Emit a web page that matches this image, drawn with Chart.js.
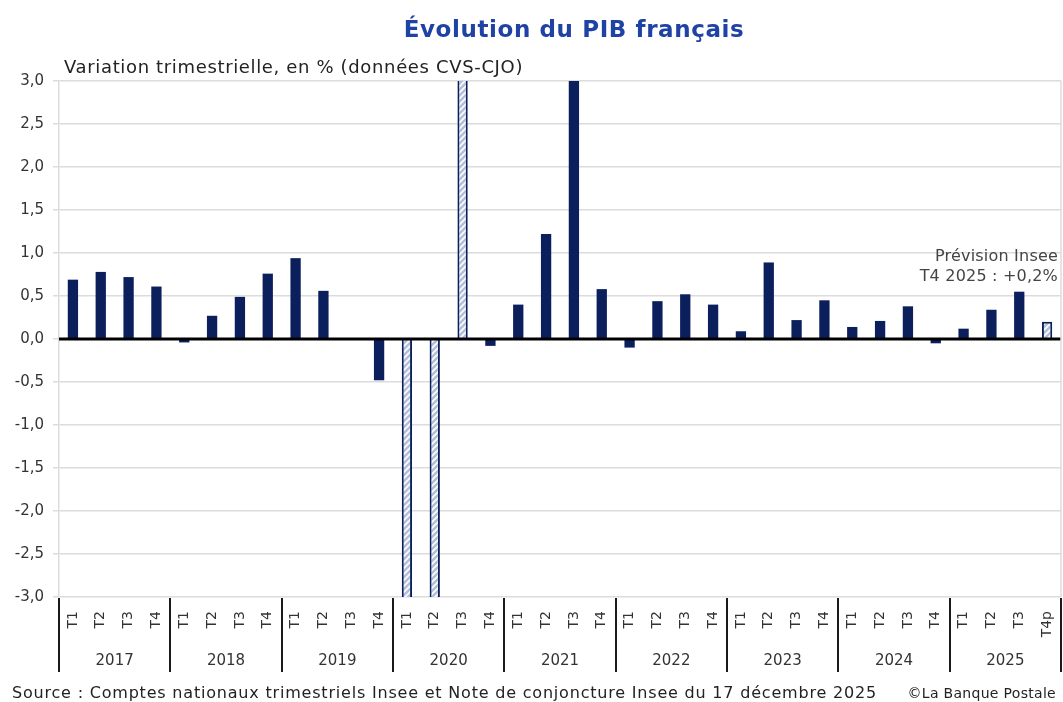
<!DOCTYPE html>
<html lang="fr">
<head>
<meta charset="utf-8">
<script src="https://cdn.jsdelivr.net/npm/chart.js@4.4.1/dist/chart.umd.min.js"></script>
<style>
html, body { margin: 0; padding: 0; background: #fff; }
</style>
</head>
<body>
<canvas id="pib" width="1063" height="702"></canvas>
<script>
// données
const years = ['2017', '2018', '2019', '2020', '2021', '2022', '2023', '2024', '2025'];
const quarters = ['T1', 'T2', 'T3', 'T4'];
// variation trimestrielle du PIB, en %
const pib = [
    0.69, 0.78, 0.72, 0.61,     // 2017
    -0.04, 0.27, 0.49, 0.76,    // 2018
    0.94, 0.56, 0.01, -0.48,    // 2019
    -5.4, -13.2, 18.5, -0.08,   // 2020
    0.40, 1.22, 3.1, 0.58,      // 2021
    -0.10, 0.44, 0.52, 0.40,    // 2022
    0.09, 0.89, 0.22, 0.45,     // 2023
    0.14, 0.21, 0.38, -0.05,    // 2024
    0.12, 0.34, 0.55, 0.20      // 2025
];
// trimestres hachurés (hors échelle / prévision)
const hatched = ['2020 T1', '2020 T2', '2020 T3', '2025 T4'];
const yTicks = [-3, -2.5, -2, -1.5, -1, -0.5, 0, 0.5, 1, 1.5, 2, 2.5, 3];

const keys = [];
const labels = [];
years.forEach(y => quarters.forEach(q => {
    keys.push(y + ' ' + q);
    labels.push(y === '2025' && q === 'T4' ? 'T4p' : q);
}));

const NAVY = '#0b1f5c';
const FONT = "'DejaVu Sans', sans-serif";

function makeHatch() {
    const c = document.createElement('canvas');
    c.width = 6; c.height = 6;
    const g = c.getContext('2d');
    g.fillStyle = '#b4bfd8';
    g.fillRect(0, 0, 6, 6);
    g.strokeStyle = '#ffffff';
    g.lineWidth = 1.6;
    g.beginPath();
    g.moveTo(0, 6); g.lineTo(6, 0);
    g.moveTo(-3, 3); g.lineTo(3, -3);
    g.moveTo(3, 9); g.lineTo(9, 3);
    g.stroke();
    return g.createPattern(c, 'repeat');
}
const hatch = makeHatch();
const isHatched = keys.map(k => hatched.includes(k));

// textes et séparateurs d'années
const decor = {
    id: 'decor',
    afterDraw(chart) {
        const ctx = chart.ctx;
        const x = chart.scales.x;
        const area = chart.chartArea;
        const step = x.getPixelForValue(1) - x.getPixelForValue(0);
        ctx.save();
        // bord droit
        ctx.strokeStyle = '#dcdcdc';
        ctx.lineWidth = 1.5;
        ctx.beginPath();
        ctx.moveTo(area.right, area.top);
        ctx.lineTo(area.right, area.bottom);
        ctx.stroke();
        // séparateurs
        ctx.strokeStyle = '#1a1a1a';
        ctx.lineWidth = 2;
        for (let i = 0; i <= years.length; i++) {
            const px = Math.round(x.getPixelForValue(i * 4) - step / 2);
            ctx.beginPath();
            ctx.moveTo(px, area.bottom + 1);
            ctx.lineTo(px, area.bottom + 75);
            ctx.stroke();
        }
        ctx.fillStyle = '#333';
        ctx.font = '15px ' + FONT;
        ctx.textAlign = 'center';
        ctx.textBaseline = 'middle';
        years.forEach((y, i) => {
            ctx.fillText(y, x.getPixelForValue(i * 4 + 1.5), 661);
        });
        ctx.textBaseline = 'alphabetic';
        // titre
        ctx.fillStyle = '#1f42a5';
        ctx.font = 'bold 23px ' + FONT;
        ctx.letterSpacing = '0.6px';
        ctx.fillText('Évolution du PIB français', 574, 37);
        ctx.fillStyle = '#222';
        ctx.font = '18px ' + FONT;
        ctx.letterSpacing = '0.65px';
        ctx.textAlign = 'left';
        ctx.fillText('Variation trimestrielle, en % (données CVS-CJO)', 64, 73);
        // annotation
        ctx.fillStyle = '#444';
        ctx.font = '16px ' + FONT;
        ctx.letterSpacing = '0.2px';
        ctx.textAlign = 'right';
        ctx.fillText('Prévision Insee', 1058, 261);
        ctx.fillText('T4 2025 : +0,2%', 1058, 281);
        // source
        ctx.fillStyle = '#222';
        ctx.textAlign = 'left';
        ctx.font = '16px ' + FONT;
        ctx.letterSpacing = '0.8px';
        ctx.fillText('Source : Comptes nationaux trimestriels Insee et Note de conjoncture Insee du 17 décembre 2025', 12, 698);
        ctx.textAlign = 'right';
        ctx.font = '14px ' + FONT;
        ctx.letterSpacing = '0.3px';
        ctx.fillText('©La Banque Postale', 1056, 698);
        ctx.restore();
    }
};

// ligne du zéro au-dessus des barres
const zeroLine = {
    id: 'zeroLine',
    afterDatasetsDraw(chart) {
        const ctx = chart.ctx;
        const y = Math.round(chart.scales.y.getPixelForValue(0));
        ctx.save();
        ctx.strokeStyle = '#000';
        ctx.lineWidth = 3;
        ctx.beginPath();
        ctx.moveTo(chart.chartArea.left, y);
        ctx.lineTo(chart.chartArea.right, y);
        ctx.stroke();
        ctx.restore();
    }
};

const chart = new Chart(document.getElementById('pib').getContext('2d'), {
    type: 'bar',
    data: {
        labels: labels,
        datasets: [{
            data: pib,
            backgroundColor: isHatched.map(h => h ? hatch : NAVY),
            borderColor: NAVY,
            borderWidth: isHatched.map(h => h ? 2 : 0),
            categoryPercentage: 1,
            barPercentage: 0.37
        }]
    },
    options: {
        responsive: false,
        animation: false,
        devicePixelRatio: 1,
        layout: { padding: { top: 81, left: 0, right: 2, bottom: 30 } },
        plugins: {
            legend: { display: false },
            tooltip: { enabled: false }
        },
        scales: {
            x: {
                afterFit(scale) {
                    scale.height = 75;
                    scale.paddingLeft = 0;
                    scale.paddingRight = 0;
                },
                grid: { display: false },
                border: { display: false },
                ticks: {
                    autoSkip: false,
                    minRotation: 90,
                    maxRotation: 90,
                    padding: 6,
                    color: '#333',
                    font: { family: FONT, size: 14 }
                }
            },
            y: {
                min: -3,
                max: 3,
                afterFit(scale) { scale.width = 59; },
                afterBuildTicks(scale) { scale.ticks = yTicks.map(v => ({ value: v })); },
                grid: { color: '#dcdcdc', lineWidth: 1.5, tickLength: 6 },
                border: { color: '#dcdcdc', width: 1.5 },
                ticks: {
                    padding: 9,
                    color: '#333',
                    font: { family: FONT, size: 15 },
                    callback: v => v.toFixed(1).replace('.', ',')
                }
            }
        }
    },
    plugins: [zeroLine, decor]
});
</script>
</body>
</html>
